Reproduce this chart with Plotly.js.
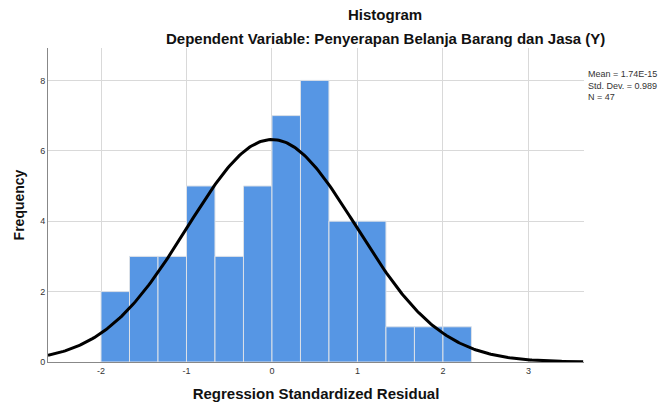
<!DOCTYPE html>
<html><head><meta charset="utf-8">
<script src="https://cdn.plot.ly/plotly-3.0.1.min.js"></script>
<style>body{margin:0;background:#fff}#c{width:667px;height:410px}</style>
</head><body><div id="c"></div>
<script>
// Histogram bins (left edges) and counts
const binStarts = [-2.0, -1.6667, -1.3333, -1.0, -0.6667, -0.3333, 0.0, 0.3333, 0.6667, 1.0, 1.3333, 1.6667, 2.0];
const counts    = [2, 3, 3, 5, 3, 5, 7, 8, 4, 4, 1, 1, 1];
const binWidth = 1/3;
// Summary statistics shown in the chart
const statMean = 1.74e-15;
const statSD = 0.989;
const statN = 47;
const statLabels = ["Mean = 1.74E-15", "Std. Dev. = 0.989", "N = 47"];
const xTicks = [-2, -1, 0, 1, 2, 3];
const yTicks = [0, 2, 4, 6, 8];

// Fitted normal curve defined by the displayed mean / SD / N (as SPSS draws it)
const curveX = [], curveY = [];
for (let x = -2.62; x <= 3.65; x += 0.02) {
  curveX.push(x);
  const z = (x - statMean) / statSD;
  curveY.push(statN * binWidth * Math.exp(-0.5 * z * z) / (statSD * Math.sqrt(2 * Math.PI)));
}

const L = 48, R = 584;
const px = v => (v - L) / (R - L);

const traces = [
  {type: 'bar', x: binStarts.map(s => s + binWidth / 2), y: counts, width: binWidth,
   marker: {color: 'rgb(86,150,228)', line: {color: 'rgb(220,225,232)', width: 1}},
   hoverinfo: 'skip', showlegend: false},
  {type: 'scatter', mode: 'lines', x: curveX, y: curveY,
   line: {color: '#000', width: 3}, hoverinfo: 'skip', showlegend: false}
];

const layout = {
  width: 667, height: 410,
  margin: {l: 48, r: 83, t: 48, b: 48},
  paper_bgcolor: '#fff', plot_bgcolor: '#fff',
  font: {family: 'Liberation Sans, Arial, sans-serif', color: '#222'},
  bargap: 0,
  xaxis: {range: [-2.62, 3.65], tickvals: xTicks, ticktext: xTicks.map(String),
          showgrid: true, gridcolor: '#d9d9d9', gridwidth: 1, zeroline: false,
          showline: true, linecolor: '#888', linewidth: 1, ticks: '',
          tickfont: {size: 9, color: '#333'},
          title: {text: 'Regression Standardized Residual', font: {size: 15, color: '#111', weight: 'bold'}, standoff: 13}},
  yaxis: {range: [0, 8.92], tickvals: yTicks, ticktext: yTicks.map(String),
          showgrid: true, gridcolor: '#d9d9d9', gridwidth: 1, zeroline: false,
          showline: true, linecolor: '#888', linewidth: 1, ticks: '',
          tickfont: {size: 9, color: '#333'},
          title: {text: 'Frequency', font: {size: 14, color: '#111', weight: 'bold'}, standoff: 12}},
  annotations: [
    {text: '<b>Histogram</b>', xref: 'paper', yref: 'paper', x: px(385), y: 1, yshift: 34,
     xanchor: 'center', yanchor: 'middle', showarrow: false, font: {size: 15, color: '#111'}},
    {text: '<b>Dependent Variable: Penyerapan Belanja Barang dan Jasa (Y)</b>', xref: 'paper', yref: 'paper',
     x: px(385), y: 1, yshift: 10, xanchor: 'center', yanchor: 'middle', showarrow: false,
     font: {size: 15, color: '#111'}},
    {text: statLabels.join('<br>'), xref: 'paper', yref: 'paper', x: px(586), y: 1, yshift: -19,
     xanchor: 'left', yanchor: 'top', align: 'left', showarrow: false,
     font: {size: 9, color: '#333'}}
  ]
};
Plotly.newPlot('c', traces, layout, {displayModeBar: false, staticPlot: true});
</script></body></html>
